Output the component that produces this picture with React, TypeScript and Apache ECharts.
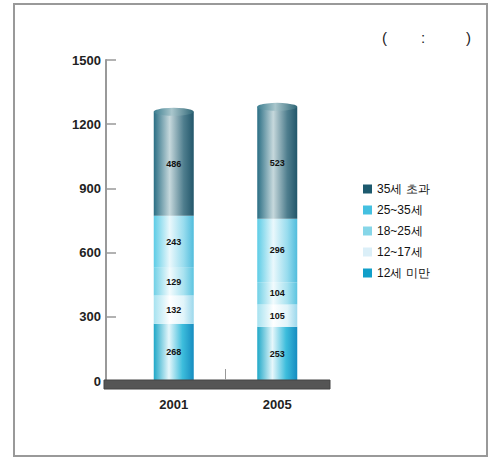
import React, { useEffect, useRef } from "react";
import * as echarts from "echarts";

const categories = ["2001", "2005"];
const seriesNames = ["12세 미만", "12~17세", "18~25세", "25~35세", "35세 초과"];
const under12 = [268, 253];
const age12to17 = [132, 105];
const age18to25 = [129, 104];
const age25to35 = [243, 296];
const over35 = [486, 523];
const yTicks = { min: 0, max: 1500, interval: 300 };

const seriesValues = [under12, age12to17, age18to25, age25to35, over35];

const lg = (stops: [number, string][]) =>
  new echarts.graphic.LinearGradient(
    0, 0, 1, 0,
    stops.map(([offset, color]) => ({ offset, color }))
  );

const fills = [
  lg([[0, "#1fa8c8"], [0.38, "#e6f7fb"], [0.72, "#3dbddc"], [1, "#168cc0"]]),
  lg([[0, "#a6e2f0"], [0.4, "#ffffff"], [0.75, "#e0f4fa"], [1, "#9cd8ec"]]),
  lg([[0, "#6fd0e6"], [0.4, "#f2fbfd"], [0.75, "#a8e2f0"], [1, "#5cc4e0"]]),
  lg([[0, "#5ccce6"], [0.4, "#eaf8fc"], [0.75, "#98dcee"], [1, "#50bcdc"]]),
  lg([[0, "#2a6e84"], [0.4, "#c6d8dc"], [0.75, "#4f7e8e"], [1, "#22566a"]]),
];
const legendColors = ["#119fc9", "#dbeff8", "#86d6e8", "#44c0e0", "#1d5a6e"];

export default function App() {
  const ref = useRef<HTMLDivElement>(null);
  useEffect(() => {
    if (!ref.current) return;
    const chart = echarts.init(ref.current, null, { renderer: "svg" });
    const totals = categories.map((_, i) =>
      seriesValues.reduce((s, arr) => s + arr[i], 0)
    );
    const font = "'Liberation Sans', Arial, sans-serif";
    const barSeries = seriesNames.map((name, k) => ({
      name,
      type: "bar",
      stack: "total",
      barWidth: 40,
      data: seriesValues[k],
      itemStyle: { color: fills[k] },
      label: {
        show: true,
        position: "inside",
        color: "#111",
        fontSize: 9,
        fontWeight: "bold",
        fontFamily: font,
      },
    }));
    chart.setOption({
      animation: false,
      backgroundColor: "#ffffff",
      textStyle: { fontFamily: font },
      grid: { left: 122, right: 161, top: 60, bottom: 78, containLabel: false },
      legend: {
        orient: "vertical",
        left: 358,
        top: 178,
        itemWidth: 9,
        itemHeight: 9,
        itemGap: 9,
        icon: "rect",
        selectedMode: false,
        textStyle: { fontSize: 12, color: "#111", fontFamily: font },
        data: [...seriesNames].reverse().map((n) => ({
          name: n,
          itemStyle: { color: legendColors[seriesNames.indexOf(n)] },
        })),
      },
      xAxis: {
        type: "category",
        data: categories,
        axisLine: { show: false },
        axisTick: { show: false },
        axisLabel: {
          margin: 17,
          fontSize: 13,
          fontWeight: "bold",
          color: "#222",
          fontFamily: font,
        },
      },
      yAxis: {
        type: "value",
        min: yTicks.min,
        max: yTicks.max,
        interval: yTicks.interval,
        offset: 16,
        splitLine: { show: false },
        axisLine: { show: true, lineStyle: { color: "#999", width: 2 } },
        axisTick: { show: true, inside: true, length: 10, lineStyle: { color: "#999", width: 1.5 } },
        axisLabel: {
          margin: 5,
          fontSize: 13,
          fontWeight: "bold",
          color: "#222",
          fontFamily: font,
          formatter: (v: number) => String(v),
        },
      },
      series: [
        ...barSeries,
        {
          name: "cap",
          type: "pictorialBar",
          symbol: "circle",
          symbolSize: [40, 8],
          symbolPosition: "end",
          symbolOffset: [0, "-50%"],
          z: 3,
          data: totals,
          itemStyle: {
            color: lg([[0, "#3c7e90"], [0.45, "#a9c6cc"], [1, "#2e6676"]]),
          },
          label: { show: false },
          tooltip: { show: false },
        },
      ],
      graphic: [
        {
          type: "rect",
          z: 100,
          shape: { x: 14, y: 4, width: 473, height: 452 },
          style: { fill: "none", stroke: "#999", lineWidth: 2 },
        },
        {
          type: "rect",
          z: 100,
          shape: { x: 104, y: 380, width: 226, height: 9 },
          style: { fill: "#555", stroke: "#444", lineWidth: 1 },
        },
        {
          type: "line",
          z: 100,
          shape: { x1: 225.5, y1: 369, x2: 225.5, y2: 380 },
          style: { stroke: "#999", lineWidth: 1 },
        },
        {
          type: "text",
          z: 100,
          x: 382,
          y: 30,
          style: { text: "(", fontSize: 15, fill: "#222", fontFamily: font },
        },
        {
          type: "text",
          z: 100,
          x: 421,
          y: 30,
          style: { text: ":", fontSize: 15, fill: "#222", fontFamily: font },
        },
        {
          type: "text",
          z: 100,
          x: 466,
          y: 30,
          style: { text: ")", fontSize: 15, fill: "#222", fontFamily: font },
        },
      ],
    });
    return () => chart.dispose();
  }, []);
  return (
    <div
      ref={ref}
      style={{ position: "fixed", left: 0, top: 0, width: 490, height: 459 }}
    />
  );
}
